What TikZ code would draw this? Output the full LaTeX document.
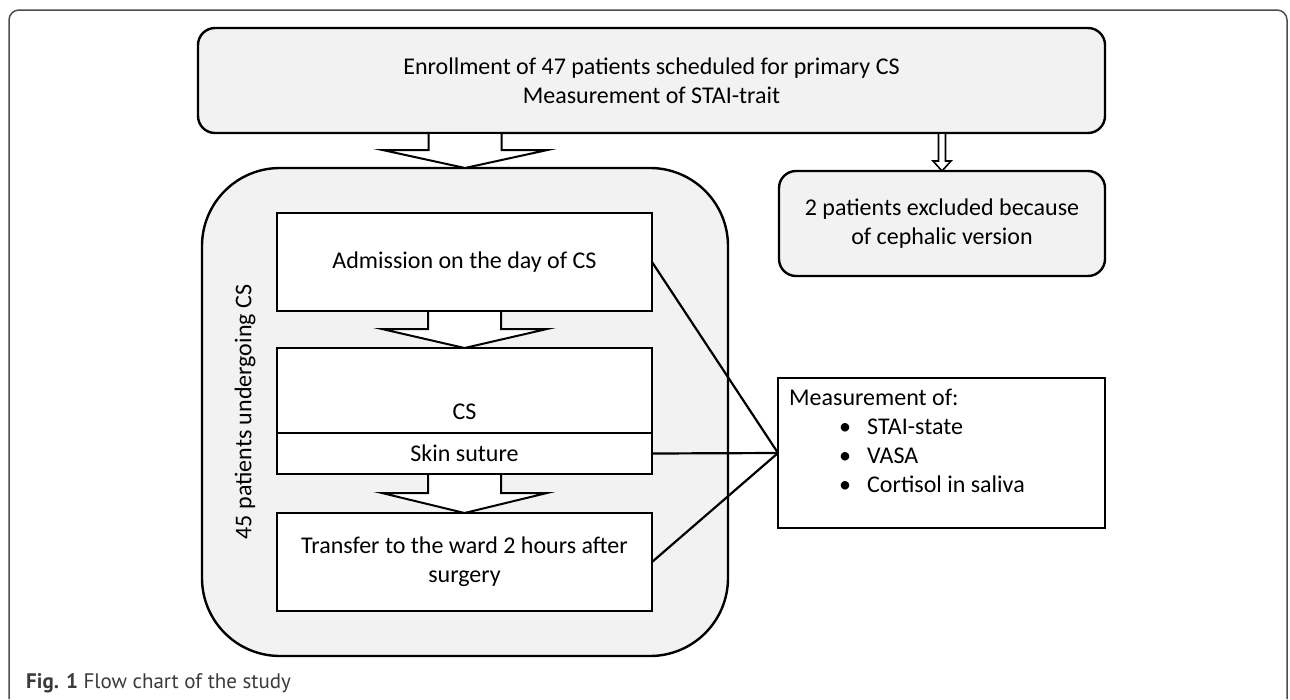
\documentclass[tikz,border=0pt]{standalone}
\usepackage{fontspec}
\setmainfont{Carlito}
\newfontfamily\captionfont{PT Sans}
\usetikzlibrary{calc}
\usetikzlibrary{positioning}

\definecolor{boxgray}{HTML}{F2F2F2}
\definecolor{framegray}{HTML}{4D4D4D}
\definecolor{captiongray}{HTML}{3A3A3A}

\tikzset{
  graybox/.style={draw, line width=2.4pt, fill=boxgray, rounded corners=17pt, align=center, inner sep=0pt, outer sep=0pt},
  whitebox/.style={draw, line width=2.4pt, fill=white, align=center, inner sep=0pt, outer sep=0pt},
  link/.style={line width=2.2pt},
}

\begin{document}
\begin{tikzpicture}[x=1pt, y=-1pt, font=\fontsize{24}{29}\selectfont]
\newcommand{\hollowarrow}[6][]{\draw[line width=2pt, fill=white, #1] ($(#5)+(-#2,1.2)$) -- ($(#6)+(-#2,-#4)$) -- ($(#6)+(-#3,-#4)$) -- (#6) -- ($(#6)+(#3,-#4)$) -- ($(#6)+(#2,-#4)$) -- ($(#5)+(#2,1.2)$);}
\useasboundingbox (0,0) rectangle (1290,699);
\draw[framegray, line width=1.5pt, rounded corners=10pt] (9,699) -- (9,10) -- (1287,10) -- (1287,699);

% boxes
\node (top) [graybox, minimum width=907pt, minimum height=105pt] at (651.5,80.5) {Enrollment of 47 patients scheduled for primary CS\\Measurement of STAI-trait};
\node (excl) [graybox, minimum width=326pt, minimum height=105pt] at (942,223.5) {2 patients excluded because\\of cephalic version};
\node (group) [graybox, rounded corners=78pt, minimum width=526pt, minimum height=488pt] at (465,412) {};
\node (grouplabel) [rotate=90] at ($(group.west)+(43,0)$) {45 patients undergoing CS};
\node (adm) [whitebox, minimum width=375pt, minimum height=98pt] at (464.5,262) {Admission on the day of CS};
\node (cs) [whitebox, minimum width=375pt, minimum height=85pt, below=37pt of adm] {};
\node (cslabel) at ($(cs.south)+(0,-21)$) {CS};
\node (skin) [whitebox, minimum width=375pt, minimum height=41pt, below=0pt of cs] {Skin suture};
\node (transfer) [whitebox, minimum width=375pt, minimum height=98pt, below=39pt of skin] {Transfer to the ward 2 hours after\\surgery};
\node (meas) [whitebox, minimum width=327pt, minimum height=150pt] at (941.5,453) {};
\node (measlist) [anchor=north west, align=left, inner sep=0pt] at ($(meas.north west)+(11,11)$) {Measurement of:\\
  \hspace*{50pt}\makebox[28pt][l]{\textbullet}STAI-state\\
  \hspace*{50pt}\makebox[28pt][l]{\textbullet}VASA\\
  \hspace*{50pt}\makebox[28pt][l]{\textbullet}Cortisol in saliva};

% arrows
\coordinate (groupin) at (group.north |- top.south);
\coordinate (exclin) at (excl.north |- top.south);
\hollowarrow{36.5}{82.5}{18}{groupin}{group.north}
\hollowarrow{36.5}{82.5}{19}{adm.south}{cs.north}
\hollowarrow{36.5}{82.5}{20}{skin.south}{transfer.north}
\hollowarrow[line width=1.6pt]{3.5}{9}{10}{exclin}{excl.north}

% measurement links
\draw[link] (adm.east) -- (meas.west);
\draw[link] (skin.east) -- (meas.west);
\draw[link] (transfer.east) -- (meas.west);

\node (caption) [anchor=west, inner sep=0pt, text=captiongray, font=\captionfont\fontsize{21}{25}\selectfont] at (26,683) {\textbf{Fig. 1} Flow chart of the study};
\end{tikzpicture}
\end{document}
